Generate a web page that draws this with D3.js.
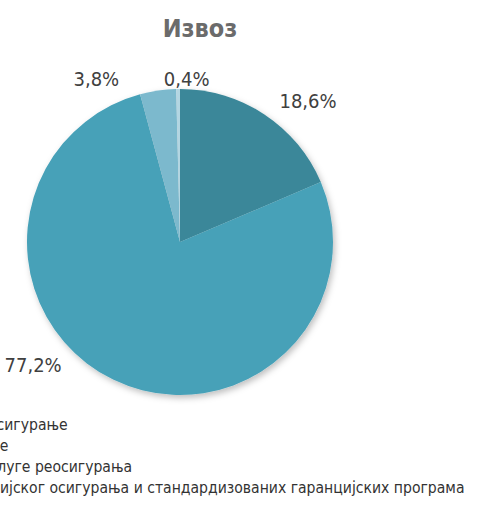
<!DOCTYPE html>
<html>
<head>
<meta charset="utf-8">
<script src="https://cdn.jsdelivr.net/npm/d3@7"></script>
<style>
  body { margin: 0; background: #fff; }
  svg text { font-family: "DejaVu Sans Condensed", "DejaVu Sans", sans-serif; font-stretch: condensed; }
</style>
</head>
<body>
<div id="chart"></div>
<script>
// data
const categories = [
    "Директно осигурање",
    "Реосигурање",
    "Помоћне услуге реосигурања",
    "Услуге пензијског осигурања и стандардизованих гаранцијских програма"
];
const shares = [18.6, 77.2, 3.8, 0.4];
const labels = ["18,6%", "77,2%", "3,8%", "0,4%"];
const title = "Извоз";

// layout
const width = 481, height = 510;
const cx = 180, cy = 242, radius = 153;
const colors = ["#3a8799", "#47a1b8", "#7cb9cd", "#b3d6e2"];
// label nudges from the outer centroid (Excel "best fit" style)
const labelNudge = [[26, 13], [-66, -43], [-57, 20], [9, 22]];

const svg = d3.select("#chart").append("svg")
    .attr("width", width)
    .attr("height", height);

const defs = svg.append("defs");
const shadow = defs.append("filter").attr("id", "shadow")
    .attr("x", "-10%").attr("y", "-10%").attr("width", "130%").attr("height", "130%");
shadow.append("feDropShadow")
    .attr("dx", 2).attr("dy", 3)
    .attr("stdDeviation", 3)
    .attr("flood-color", "#000")
    .attr("flood-opacity", 0.25);

// title
svg.append("text")
    .attr("x", 200)
    .attr("y", 37)
    .attr("text-anchor", "middle")
    .style("font-size", "25px")
    .style("font-weight", "bold")
    .style("fill", "#6b6b6b")
    .text(title);

const pie = d3.pie().sort(null).value(d => d);
const arcs = pie(shares);
const arc = d3.arc().innerRadius(0).outerRadius(radius);
const labelArc = d3.arc().innerRadius(185).outerRadius(185);

const g = svg.append("g")
    .attr("transform", `translate(${cx},${cy})`);

g.append("g")
    .attr("filter", "url(#shadow)")
    .selectAll("path")
    .data(arcs)
    .enter().append("path")
    .attr("d", arc)
    .style("fill", (d, i) => colors[i])
    .style("stroke", "none");

g.selectAll(".label")
    .data(arcs)
    .enter().append("text")
    .attr("class", "label")
    .attr("transform", (d, i) => {
        const c = labelArc.centroid(d);
        return `translate(${c[0] + labelNudge[i][0]},${c[1] + labelNudge[i][1]})`;
    })
    .attr("text-anchor", "middle")
    .attr("dy", "0.35em")
    .style("font-size", "20px")
    .style("fill", "#404040")
    .text((d, i) => labels[i]);

// legend (cut off on the left, as in the source crop)
const legend = svg.append("g")
    .attr("transform", "translate(0, 430)");

const items = legend.selectAll(".legend-item")
    .data(categories)
    .enter().append("g")
    .attr("class", "legend-item")
    .attr("transform", (d, i) => `translate(0, ${i * 21})`);

items.append("rect")
    .attr("class", "swatch")
    .attr("y", -10)
    .attr("width", 10)
    .attr("height", 10)
    .style("fill", (d, i) => colors[i]);

const legendText = items.append("text")
    .attr("y", 0)
    .style("font-size", "16px")
    .style("fill", "#333")
    .text(d => d);

// fit the legend so the long line ends near the right edge and the
// visible part starts at "...ијског", like the cropped original
const probe = svg.append("text").style("font-size", "16px");
const prefixW = probe.text("Услуге пенз").node().getComputedTextLength();
const suffixW = probe.text("ијског осигурања и стандардизованих гаранцијских програма").node().getComputedTextLength();
probe.remove();
const k = 465 / suffixW;
const fontSize = 16 * k;
const startX = -prefixW * k;
legendText.style("font-size", `${fontSize}px`).attr("x", startX);
items.select(".swatch").attr("x", startX - 16);
</script>
</body>
</html>
